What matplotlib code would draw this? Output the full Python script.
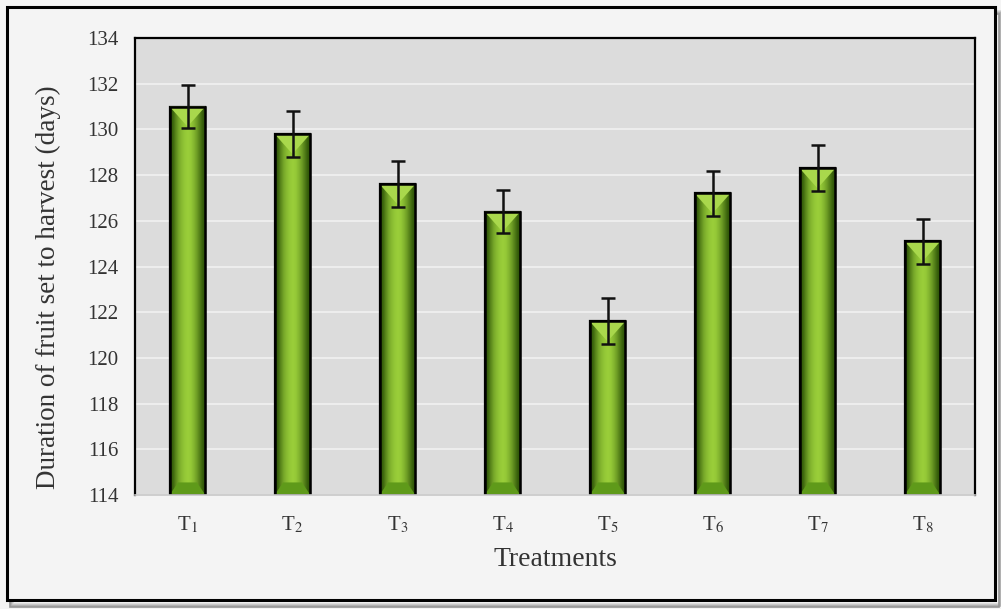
import matplotlib
matplotlib.use("Agg")
import matplotlib.pyplot as plt
import numpy as np
from matplotlib.patches import Rectangle, Polygon

treatments = ["T$_{1}$", "T$_{2}$", "T$_{3}$", "T$_{4}$", "T$_{5}$", "T$_{6}$", "T$_{7}$", "T$_{8}$"]
values = [131.0, 129.8, 127.6, 126.4, 121.6, 127.2, 128.3, 125.1]
errors = [0.95, 1.0, 1.0, 0.95, 1.0, 1.0, 1.0, 1.0]
yticks = [114, 116, 118, 120, 122, 124, 126, 128, 130, 132, 134]

plt.rcParams['font.family'] = ['Liberation Serif', 'DejaVu Serif']
plt.rcParams['mathtext.fontset'] = 'stix'

fig = plt.figure(figsize=(10.01, 6.09), dpi=100, facecolor='#f4f4f4')
W, H = 1001, 609
for i, c in enumerate(['#d8d8d8', '#c4c4c4', '#acacac', '#949494']):
    fig.add_artist(Rectangle(((9 + 4 - i) / W, (3 - i + 2) / H), (989) / W, (593) / H,
                             transform=fig.transFigure, fill=False, edgecolor=c, lw=1.2,
                             zorder=-3))
fig.add_artist(Rectangle((7 / W, 9 / H), 988 / W, 593 / H, transform=fig.transFigure,
                         fill=True, facecolor='#f4f4f4', edgecolor='black', lw=2.2, zorder=-2))

ax = fig.add_axes([135 / W, 1 - 495 / H, 840 / W, 457 / H])
ax.set_zorder(1)
ax.set_facecolor('#dcdcdc')
ax.set_xlim(-0.5, 7.5)
ax.set_ylim(114, 134)
ax.set_yticks(yticks)
ax.set_yticklabels([str(t) for t in yticks], fontsize=15, color='#333333')
x = np.arange(len(values))
ax.set_xticks(x)
ax.set_xticklabels(treatments, fontsize=15, color='#333333')
ax.tick_params(length=0)
ax.tick_params(axis='y', pad=12)
ax.tick_params(axis='x', pad=14)
ax.grid(axis='y', color='#efefef', lw=1.3)
ax.set_axisbelow(True)
for s in ['left', 'top', 'right']:
    ax.spines[s].set_color('black')
    ax.spines[s].set_linewidth(1.6)
ax.spines['bottom'].set_color('#c8c8c8')
ax.spines['bottom'].set_linewidth(1.2)

w = 0.34
prof = np.array([0.0, 0.15, 0.45, 0.7, 0.85, 0.95, 1.0, 0.95, 0.8, 0.6, 0.35, 0.1, 0.0])
dark = np.array([0x2a, 0x50, 0x05]) / 255
light = np.array([0x9a, 0xcf, 0x3a]) / 255
xs = np.linspace(0, 1, 200)
p = np.interp(xs, np.linspace(0, 1, len(prof)), prof)
grad = (dark[None, :] * (1 - p[:, None]) + light[None, :] * p[:, None])[None, :, :]

bars = ax.bar(x, [v - 114 for v in values], bottom=114, width=w, color='#6aa51e',
              edgecolor='black', lw=1.6, zorder=2)
for xi, v, b in zip(x, values, bars):
    im = ax.imshow(grad, extent=(xi - w / 2, xi + w / 2, 114, v), aspect='auto', zorder=2.1)
    im.set_clip_path(b)
    bev = 0.08
    dy = 0.55
    ax.add_patch(Polygon([(xi - w / 2, v), (xi + w / 2, v), (xi, v - dy * 1.6)],
                         closed=True, facecolor='#a9d84c', edgecolor='none', zorder=2.2))
    ax.add_patch(Polygon([(xi - w / 2, 114), (xi + w / 2, 114), (xi + w / 2 - bev, 114 + dy),
                          (xi - w / 2 + bev, 114 + dy)],
                         closed=True, facecolor='#5f9a1a', edgecolor='none', zorder=2.2))
    ax.add_patch(Rectangle((xi - w / 2, 114), w, v - 114, fill=False, edgecolor='black',
                           lw=1.8, zorder=2.3))

ax.set_xlim(-0.5, 7.5)
ax.set_ylim(114, 134)

ax.errorbar(x, values, yerr=errors, fmt='none', ecolor='#111111', elinewidth=1.8,
            capsize=5, capthick=1.8, zorder=3)

ax.set_xlabel('Treatments', fontsize=20, color='#333333')
ax.set_ylabel('Duration of fruit set to harvest (days)', fontsize=19.5, color='#333333')
ax.xaxis.set_label_coords(0.5, (495 - 560) / 457, transform=ax.transAxes)
ax.yaxis.set_label_coords((48 - 135) / 840, (495 - 287) / 457, transform=ax.transAxes)
ax.xaxis.label.set_va('center')
ax.yaxis.label.set_va('center')

fig.savefig('out.png', dpi=100, facecolor=fig.get_facecolor())
